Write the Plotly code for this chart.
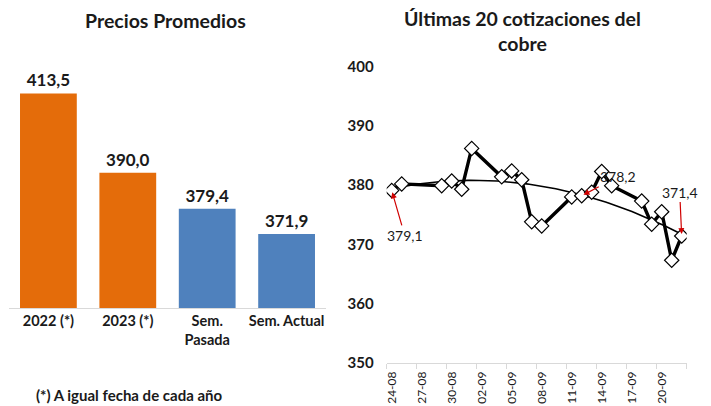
import numpy as np
import pandas as pd
import plotly.graph_objects as go

# ---- Data: left panel (average prices)
bar_categories = ["2022 (*)", "2023 (*)", "Sem.<br>Pasada", "Sem. Actual"]
bar_values = [413.5, 390.0, 379.4, 371.9]
bar_colors = ["#E46C0A", "#E46C0A", "#4F81BD", "#4F81BD"]

# ---- Data: right panel (last copper quotes)
quote_dates = ["2023-08-24", "2023-08-25", "2023-08-29", "2023-08-30", "2023-08-31",
               "2023-09-01", "2023-09-04", "2023-09-05", "2023-09-06", "2023-09-07",
               "2023-09-08", "2023-09-11", "2023-09-12", "2023-09-13", "2023-09-14",
               "2023-09-15", "2023-09-18", "2023-09-19", "2023-09-20", "2023-09-21",
               "2023-09-22"]
quote_values = [379.1, 380.2, 379.9, 380.7, 379.3,
                386.2, 381.4, 382.4, 380.9, 373.8,
                373.1, 378.0, 378.2, 378.8, 382.3,
                379.9, 377.3, 373.4, 375.5, 367.3,
                371.4]
y_ticks = [350, 360, 370, 380, 390, 400]
# annotated points: (index, label text, x offset px, y offset px)
callouts = [(0, "379,1", 13, 45), (12, "378,2", 36, -19), (20, "371,4", -2, -44)]

FONT = "Lato"
TXT = "#1a1a1a"

dates = pd.to_datetime(quote_dates)
days = (dates - dates[0]).days.values.astype(float)
coef = np.polyfit(days, quote_values, 2)
trend_days = np.linspace(days.min(), days.max(), 100)
trend_dates = dates[0] + pd.to_timedelta(trend_days, unit="D")
trend_vals = np.polyval(coef, trend_days)

# page is offset by the default 8px body margin
OFF = 8
W, H = 711 - OFF, 406 - OFF


def px(xp):
    return (xp - OFF) / W


def py(yp):
    return 1 - (yp - OFF) / H


fig = go.Figure()

fig.add_trace(go.Bar(
    x=bar_categories, y=bar_values, marker=dict(color=bar_colors, line=dict(width=0)),
    text=bar_values, texttemplate="%{y:.1f}", textposition="outside",
    textfont=dict(family=FONT, size=17, color=TXT, weight="bold"),
    cliponaxis=False, xaxis="x", yaxis="y", showlegend=False, hoverinfo="skip",
))

fig.add_trace(go.Scatter(
    x=trend_dates, y=trend_vals, mode="lines",
    line=dict(color="black", width=1.6), xaxis="x2", yaxis="y2", showlegend=False,
))
fig.add_trace(go.Scatter(
    x=dates, y=quote_values, mode="lines+markers",
    line=dict(color="black", width=3.4),
    marker=dict(symbol="diamond", size=11, color="white", line=dict(color="black", width=1.2)),
    xaxis="x2", yaxis="y2", showlegend=False,
))

annotations = [
    dict(text="<b>Precios Promedios</b>", x=165, y=20, size=19.5),
    dict(text="<b>(*) A igual fecha de cada año</b>", x=129, y=395, size=15),
    dict(text="<b>Últimas 20 cotizaciones del<br>cobre</b>", x=522, y=31, size=19.5),
]
for a in annotations:
    a.update(x=px(a["x"]), y=py(a["y"]), xref="paper", yref="paper",
             xanchor="center", yanchor="middle", showarrow=False,
             font=dict(family=FONT, size=a.pop("size"), color=TXT))

for idx, label, ax, ay in callouts:
    annotations.append(dict(
        x=dates[idx], y=quote_values[idx], xref="x2", yref="y2", text=label,
        showarrow=True, ax=ax, ay=ay, arrowcolor="#D00000", arrowwidth=1.2,
        arrowhead=2, arrowsize=1, standoff=2,
        font=dict(family=FONT, size=14, color=TXT),
    ))

fig.update_layout(
    width=W, height=H, margin=dict(l=0, r=0, t=0, b=0, autoexpand=False),
    paper_bgcolor="white", plot_bgcolor="white", separators=",.",
    bargap=0.285,
    annotations=annotations,
    xaxis=dict(domain=[px(8.7), px(326.3)], showline=True, linecolor="#d9d9d9", linewidth=1,
               ticks="", automargin=False,
               tickfont=dict(family=FONT, size=14.5, color=TXT, weight="bold")),
    yaxis=dict(domain=[py(308), py(60)], range=[350, 423.4], visible=False,
               showgrid=False, automargin=False),
    xaxis2=dict(domain=[px(386.7), px(686.7)], type="date", anchor="y2",
                range=["2023-08-23 12:00", "2023-09-22 12:00"],
                tick0="2023-08-24", dtick=3 * 86400000, tickformat="%d-%m",
                tickangle=-90, ticks="", showline=True, linecolor="#d9d9d9",
                automargin=False, ticklabelstandoff=3,
                tickfont=dict(family=FONT, size=12, color=TXT),
                minor=dict(ticks="outside", tick0="2023-08-23 12:00", dtick=3 * 86400000,
                           ticklen=5, tickcolor="#d9d9d9", showgrid=False),
                showgrid=False),
    yaxis2=dict(domain=[py(362.7), py(66.7)], anchor="x2", range=[350, 400],
                tickvals=y_ticks, showgrid=False, showline=False, zeroline=False,
                ticks="", ticklabelstandoff=12, automargin=False,
                tickfont=dict(family=FONT, size=15, color=TXT, weight="bold")),
)

fig.write_html("out.html")
